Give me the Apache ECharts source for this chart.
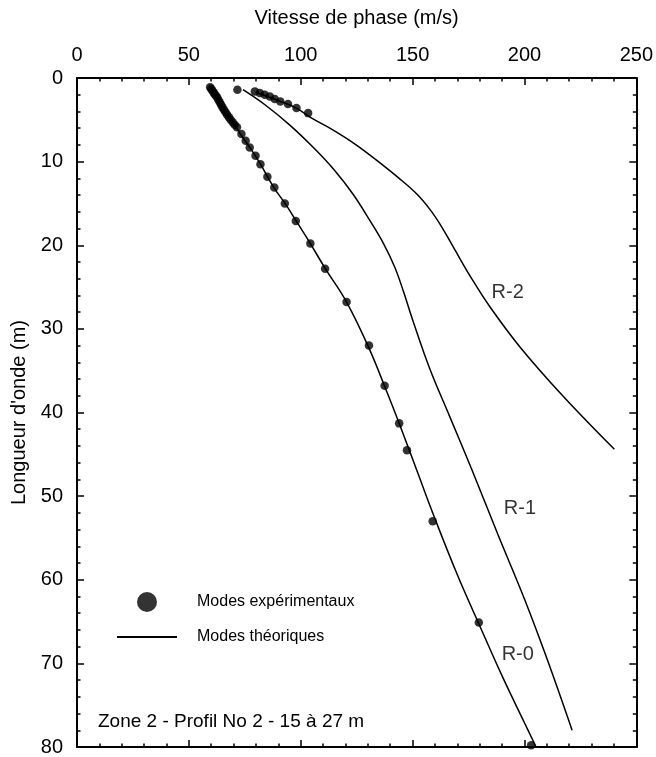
<!DOCTYPE html>
<html><head><meta charset="utf-8">
<script src="https://cdn.jsdelivr.net/npm/echarts@6/dist/echarts.min.js"></script>
<style>html,body{margin:0;padding:0;background:#fff}#c{width:656px;height:757px}</style>
</head><body><div id="c"></div>
<script>
// Experimental modes [phase velocity (m/s), wavelength (m)]
const expR0 = [[59.5,1.1],[60,1.3],[60.5,1.5],[61,1.7],[61.5,1.9],[62,2.1],[62.6,2.3],[63.2,2.6],[63.8,2.9],[64.4,3.2],[65,3.5],[65.7,3.8],[66.4,4.1],[67.1,4.4],[67.9,4.7],[68.7,5.0],[69.6,5.3],[70.5,5.6],[71.5,5.9],
  [73.5,6.7],[75.4,7.5],[77.2,8.3],[79.8,9.3],[82,10.3],[85.1,11.8],[88.2,13.1],[92.9,15.0],[97.8,17.1],[104.3,19.8],[110.9,22.8],[120.5,26.8],
  [130.5,32],[137.5,36.8],[144,41.3],[147.5,44.5],[159,53],[179.6,65.1],[203,79.8]];
const expR1 = [[71.7,1.4]];
const expR2 = [[79.5,1.6],[81.7,1.8],[83.9,2.0],[86.2,2.2],[88.4,2.5],[90.9,2.8],[94.3,3.1],[98.1,3.6],[103.3,4.2]];
// Theoretical modes
const theoR0 = [[59,0.8],[62,2],[65.5,3.6],[69,5],[73.5,6.9],[78,8.6],[82,10.3],[88,13.1],[93,15],[98,17.1],[104.3,19.8],[111,22.8],[120.5,26.8],[130.5,32.3],[138,37.2],[145,42],[152,47],[160,52.7],[170,59.4],[180,65.5],[190,71.5],[200,77.1],[205.2,80]];
const theoR1 = [[74.2,1.4],[84,3.2],[95,5.6],[106,8.4],[115,11.0],[123.4,13.9],[130.8,17],[137,19.8],[142,22.6],[146,25.6],[150,28.9],[157.6,34.7],[166,40.1],[176.6,46.9],[188,54.5],[200,62.3],[210,69.4],[221.3,78]];
const theoR2 = [[80,1.7],[90,2.7],[98,3.6],[105.5,4.9],[113,6],[122,7.5],[130.8,9.2],[144,12],[152,13.9],[158,15.8],[163,17.8],[168.8,20.5],[176,23.8],[184.4,27.3],[197.8,32.1],[217.1,38],[240.2,44.4]];
const modeLabels = [["R-0",197,68.9],["R-1",198,51.5],["R-2",192.5,25.6]];
const xTicks = [0,50,100,150,200,250];
const yTicks = [0,10,20,30,40,50,60,70,80];
const xName = "Vitesse de phase (m/s)";
const yName = "Longueur d'onde (m)";
const noteText = "Zone 2 - Profil No 2 - 15 à 27 m";

const chart = echarts.init(document.getElementById('c'), null, {renderer:'canvas'});
const F = '"Liberation Sans", Arial, sans-serif';
const axisCommon = () => ({
  axisLine:{show:true,onZero:false,lineStyle:{color:'#000',width:2}},
  axisTick:{show:true,inside:true,length:7,lineStyle:{color:'#000',width:1.5}},
  minorTick:{show:true,splitNumber:5,length:3.5,lineStyle:{color:'#000',width:1.5}},
  splitLine:{show:false}
});
const lineSeries = (d) => ({type:'line',name:'Modes théoriques',data:d,xAxisIndex:0,yAxisIndex:0,symbol:'none',smooth:0.4,lineStyle:{color:'#000',width:1.5},z:2,silent:true});
const dotSeries = (d) => ({type:'scatter',name:'Modes expérimentaux',data:d,xAxisIndex:0,yAxisIndex:0,symbol:'circle',symbolSize:8.5,itemStyle:{color:'#000'},z:3,silent:true});
chart.setOption({
  animation:false,
  backgroundColor:'#fff',
  grid:{left:77,right:19,top:78,bottom:9,containLabel:false},
  xAxis:[
    Object.assign({type:'value',position:'top',min:0,max:250,interval:50,name:xName,nameLocation:'middle',nameGap:50,
      nameTextStyle:{fontFamily:F,fontSize:20,color:'#000'},
      axisLabel:{show:true,fontFamily:F,fontSize:20,color:'#000',margin:13,formatter:v=>xTicks.includes(v)?String(v):''}},axisCommon()),
    Object.assign({type:'value',position:'bottom',min:0,max:250,interval:50,axisLabel:{show:false}},axisCommon())
  ],
  yAxis:[
    Object.assign({type:'value',position:'left',inverse:true,min:0,max:80,interval:10,name:yName,nameLocation:'middle',nameGap:43,nameRotate:90,
      nameTextStyle:{fontFamily:F,fontSize:20,color:'#000'},
      axisLabel:{show:true,fontFamily:F,fontSize:20,color:'#000',margin:14,formatter:v=>yTicks.includes(v)?String(v):''}},axisCommon()),
    Object.assign({type:'value',position:'right',inverse:true,min:0,max:80,interval:10,axisLabel:{show:false}},axisCommon())
  ],
  legend:[
    {left:132,top:587,orient:'vertical',icon:'circle',itemWidth:20,itemHeight:20,data:['Modes expérimentaux'],
     textStyle:{fontFamily:F,fontSize:16,color:'#000',padding:[0,0,0,35]},selectedMode:false},
    {left:112,top:624,orient:'vertical',icon:'rect',itemWidth:60,itemHeight:2,data:['Modes théoriques'],
     itemStyle:{color:'#000'},textStyle:{fontFamily:F,fontSize:16,color:'#000',padding:[0,0,0,15]},selectedMode:false}
  ],
  series:[
    lineSeries(theoR0), lineSeries(theoR1), lineSeries(theoR2),
    dotSeries(expR0), dotSeries(expR1), dotSeries(expR2),
    {type:'scatter',name:'labels',data:modeLabels.map(l=>({value:[l[1],l[2]],name:l[0]})),symbolSize:0,silent:true,
     label:{show:true,position:'inside',formatter:p=>p.name,fontFamily:F,fontSize:20,color:'#000'}}
  ],
  graphic:[
    {type:'text',left:98,top:712,style:{text:noteText,fontFamily:F,fontSize:19,fill:'#000'}}
  ]
});
</script></body></html>
